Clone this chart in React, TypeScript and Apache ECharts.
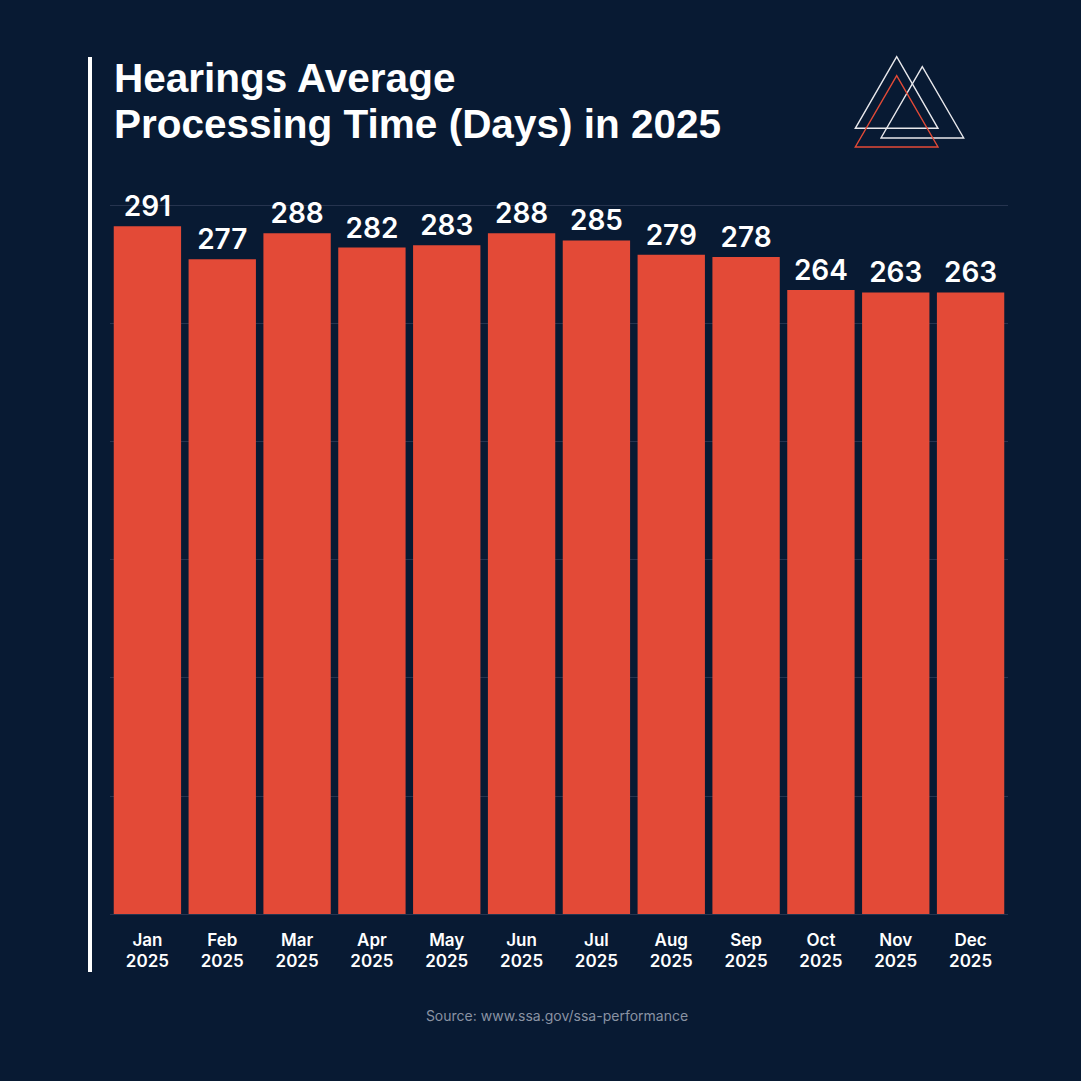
import React, { useEffect, useRef } from "react";
import * as echarts from "echarts";

const months = ["Jan", "Feb", "Mar", "Apr", "May", "Jun", "Jul", "Aug", "Sep", "Oct", "Nov", "Dec"];
const year = "2025";
const values = [291, 277, 288, 282, 283, 288, 285, 279, 278, 264, 263, 263];
const titleLines = ["Hearings Average", "Processing Time (Days) in 2025"];
const sourceText = "Source: www.ssa.gov/ssa-performance";

const BG = "#081a33";
const BAR = "#e34a37";
const FONT = "Inter, 'Open Sans', sans-serif";
const TITLE_FONT = "'Liberation Sans', Arial, sans-serif";

export default function App() {
  const ref = useRef<HTMLDivElement>(null);
  useEffect(() => {
    if (!ref.current) return;
    const chart = echarts.init(ref.current, undefined, { renderer: "svg" });
    chart.setOption({
      animation: false,
      backgroundColor: BG,
      grid: { left: 110, right: 73, top: 205, bottom: 167, containLabel: false },
      xAxis: {
        type: "category",
        data: months.map((m) => `${m}\n${year}`),
        axisLine: { show: false },
        axisTick: { show: false },
        axisLabel: {
          color: "#ffffff",
          fontFamily: FONT,
          fontWeight: 600,
          fontSize: 17,
          lineHeight: 21,
          margin: 15,
        },
      },
      yAxis: {
        type: "value",
        min: 0,
        max: 300,
        interval: 50,
        axisLabel: { show: false },
        axisLine: { show: false },
        axisTick: { show: false },
        splitLine: { lineStyle: { color: "#26344f", width: 1 } },
      },
      series: [
        {
          type: "bar",
          data: values,
          barCategoryGap: "10%",
          itemStyle: { color: BAR },
          label: {
            show: true,
            position: "top",
            distance: 6,
            color: "#ffffff",
            fontFamily: FONT,
            fontWeight: 600,
            fontSize: 28,
          },
        },
      ],
      graphic: [
        {
          type: "rect",
          shape: { x: 88, y: 57, width: 4, height: 915 },
          style: { fill: "#ffffff" },
        },
        ...titleLines.map((line, i) => ({
          type: "text",
          x: 114,
          y: 78 + i * 46,
          style: {
            text: line,
            fill: "#ffffff",
            font: `700 40.5px ${TITLE_FONT}`,
            align: "left",
            verticalAlign: "middle",
          },
        })),
        {
          type: "text",
          x: 557,
          y: 1015,
          style: {
            text: sourceText,
            fill: "#8a93a3",
            font: `14px ${FONT}`,
            align: "center",
            verticalAlign: "middle",
          },
        },
        {
          type: "polygon",
          shape: { points: [[896.7, 56.7], [855.3, 128.3], [938, 128.3]] },
          style: { fill: "none", stroke: "#e8e8ec", lineWidth: 1.4 },
        },
        {
          type: "polygon",
          shape: { points: [[922.3, 66.7], [881, 138], [963.7, 138]] },
          style: { fill: "none", stroke: "#e8e8ec", lineWidth: 1.4 },
        },
        {
          type: "polygon",
          shape: { points: [[896.7, 75.7], [855.3, 147], [938, 147]] },
          style: { fill: "none", stroke: BAR, lineWidth: 1.4 },
        },
      ],
    });
    return () => chart.dispose();
  }, []);
  return (
    <div
      ref={ref}
      style={{ position: "fixed", left: 0, top: 0, width: 1081, height: 1081 }}
    />
  );
}
